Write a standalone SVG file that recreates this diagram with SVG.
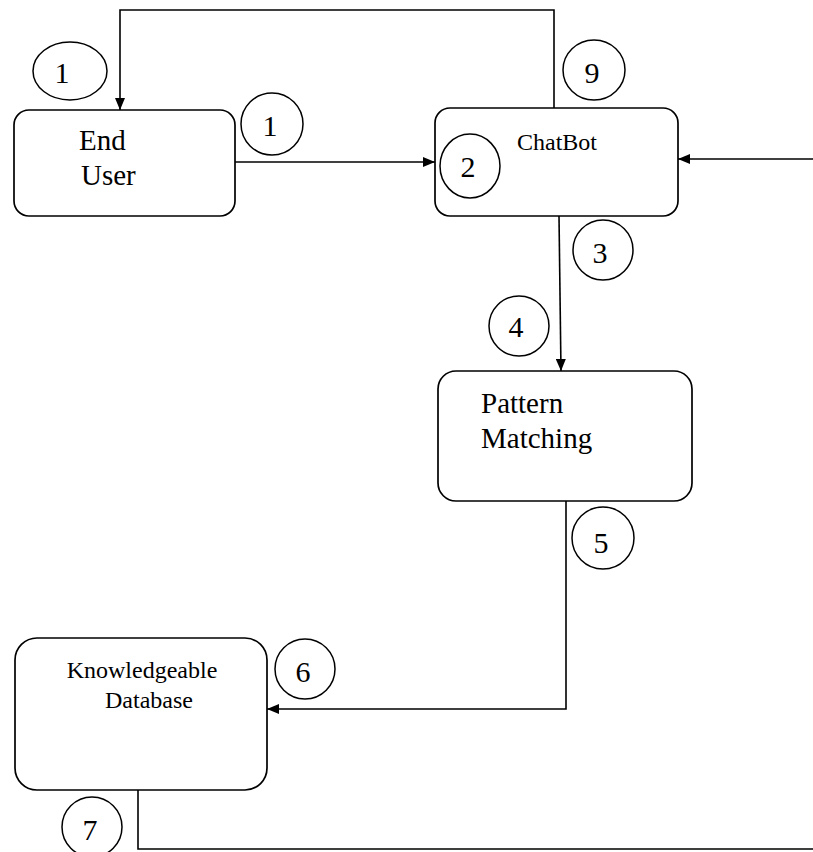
<svg xmlns="http://www.w3.org/2000/svg" width="813" height="852" viewBox="0 0 813 852">
<style>
.box{fill:#fff;stroke:#000;stroke-width:1.7}
.ell{fill:none;stroke:#000;stroke-width:1.5}
.ln{fill:none;stroke:#000;stroke-width:1.6}
.t{font-family:"Liberation Serif","Times New Roman",serif;fill:#000}
.num{font-family:"Liberation Serif","Times New Roman",serif;font-size:30px;text-anchor:middle;fill:#000}
</style>
<defs>
<marker id="ah" viewBox="0 0 12 10" refX="12" refY="5" markerWidth="12" markerHeight="10" markerUnits="userSpaceOnUse" orient="auto">
<path d="M0,0 L12,5 L0,10 Z" fill="#000"/>
</marker>
</defs>
<rect width="813" height="852" fill="#fff"/>
<g id="connectors">
<path class="ln" d="M554,108 V10 H120 V110" marker-end="url(#ah)"/>
<path class="ln" d="M235,162 H435" marker-end="url(#ah)"/>
<path class="ln" d="M813,159 H678" marker-end="url(#ah)"/>
<path class="ln" d="M559,216 L561,371" marker-end="url(#ah)"/>
<path class="ln" d="M566,501 V709 H267" marker-end="url(#ah)"/>
<path class="ln" d="M138,790 V849 H813"/>
</g>
<g id="end-user">
<rect class="box" x="14" y="110" width="221" height="106" rx="15"/>
<text class="t" x="79" y="150" font-size="29">End</text>
<text class="t" x="81" y="185" font-size="29">User</text>
</g>
<g id="chatbot">
<rect class="box" x="435" y="108" width="243" height="108" rx="15"/>
<text class="t" x="517" y="150" font-size="24">ChatBot</text>
</g>
<g id="pattern-matching">
<rect class="box" x="438" y="371" width="254" height="130" rx="18"/>
<text class="t" x="481" y="413" font-size="29">Pattern</text>
<text class="t" x="481" y="448" font-size="29">Matching</text>
</g>
<g id="knowledgeable-database">
<rect class="box" x="15" y="638" width="252" height="152" rx="22"/>
<text class="t" x="142" y="678" font-size="24" text-anchor="middle">Knowledgeable</text>
<text class="t" x="149" y="708" font-size="24" text-anchor="middle">Database</text>
</g>
<g id="labels">
<ellipse class="ell" cx="70" cy="71" rx="37" ry="29"/><text class="num" x="62" y="83">1</text>
<ellipse class="ell" cx="272" cy="124" rx="31" ry="31"/><text class="num" x="270" y="136">1</text>
<ellipse class="ell" cx="594" cy="70" rx="31" ry="30"/><text class="num" x="592" y="83">9</text>
<ellipse class="ell" cx="470" cy="166" rx="30" ry="32"/><text class="num" x="468" y="177">2</text>
<ellipse class="ell" cx="603" cy="250" rx="30" ry="30"/><text class="num" x="600" y="263">3</text>
<ellipse class="ell" cx="519" cy="326" rx="30" ry="30"/><text class="num" x="516" y="337">4</text>
<ellipse class="ell" cx="603" cy="538" rx="31" ry="31"/><text class="num" x="601" y="553">5</text>
<ellipse class="ell" cx="305" cy="669" rx="30" ry="30"/><text class="num" x="303" y="682">6</text>
<ellipse class="ell" cx="92" cy="827" rx="30" ry="30"/><text class="num" x="90" y="840">7</text>
</g>
</svg>
